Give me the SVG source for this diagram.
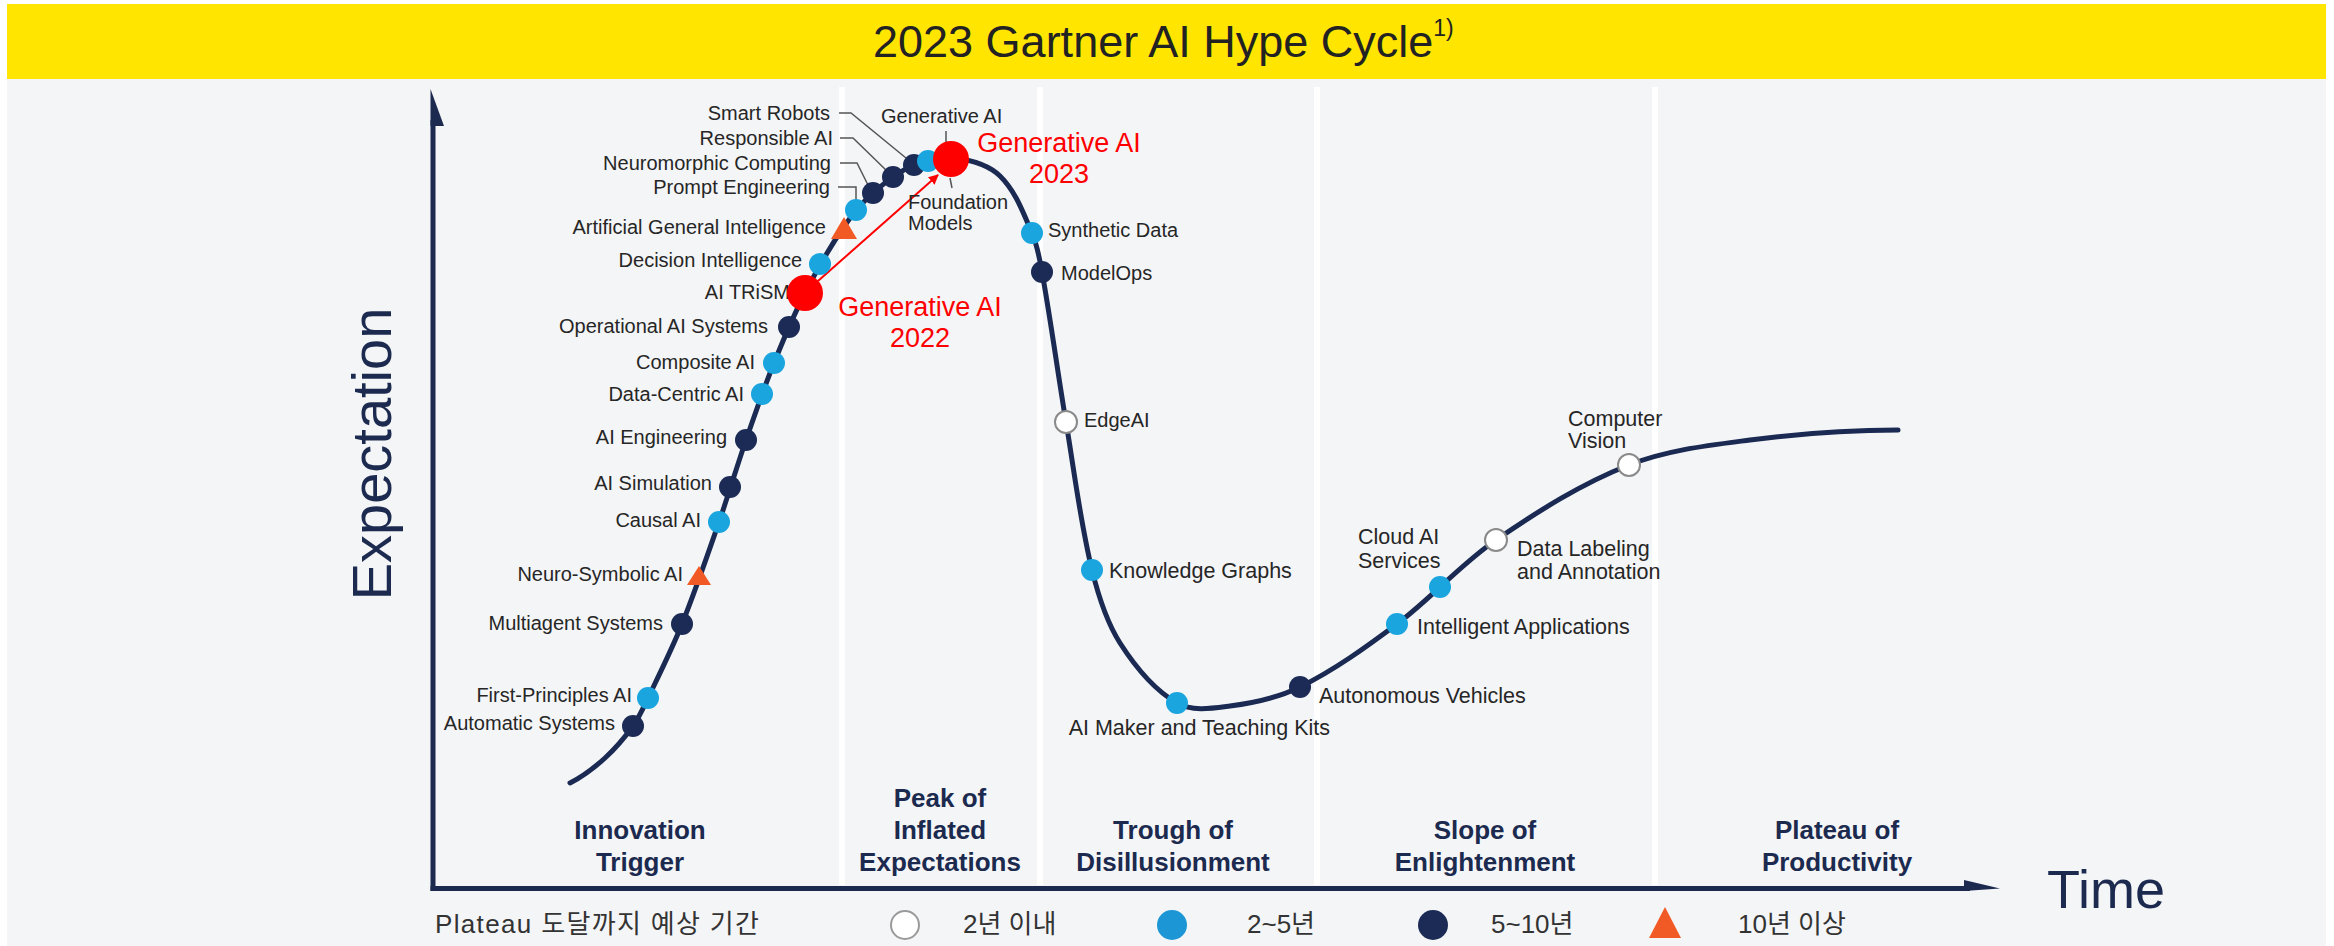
<svg xmlns="http://www.w3.org/2000/svg" width="2334" height="946" viewBox="0 0 2334 946">
<defs>
<style>
.lbl{font-family:"Liberation Sans",Arial,sans-serif;font-size:20px;fill:#262626}
.big{font-size:21.5px}
.end{text-anchor:end}
.ph{font-family:"Liberation Sans",Arial,sans-serif;font-size:26px;font-weight:bold;fill:#1B2A4E;text-anchor:middle}
.red{font-family:"Liberation Sans",Arial,sans-serif;font-size:27px;fill:#FF0000;text-anchor:middle}
.leg{font-family:"Liberation Sans","Noto Sans CJK KR",sans-serif;font-size:26px;fill:#333333}
.blue{fill:#1AA5DF}
.navy{fill:#1B2B55}
.open{fill:#FFFFFF;stroke:#8A8A8A;stroke-width:2}
.tri{fill:#F15A24}
.lead{fill:none;stroke:#555555;stroke-width:1.5}
.div{stroke:#FFFFFF;stroke-width:6}
</style>
<marker id="redhead" markerWidth="10" markerHeight="10" refX="9" refY="5" orient="auto" markerUnits="userSpaceOnUse" viewBox="0 0 10 10">
<path d="M0,0 L10,5 L0,10 z" fill="#FF0000"/>
</marker>
</defs>
<rect x="0" y="0" width="2334" height="946" fill="#FFFFFF"/>
<rect x="7" y="79" width="2319" height="867" fill="#F4F5F7"/>
<rect id="title-bar" x="7" y="4" width="2319" height="75" fill="#FFE500"/>
<text id="title" x="873" y="57" font-family="Liberation Sans, Arial, sans-serif" font-size="45" fill="#222222">2023 Gartner AI Hype Cycle<tspan font-size="23" dy="-21">1)</tspan></text>

<g id="dividers">
<line class="div" x1="842" y1="87" x2="842" y2="885"/>
<line class="div" x1="1040" y1="87" x2="1040" y2="885"/>
<line class="div" x1="1317" y1="87" x2="1317" y2="885"/>
<line class="div" x1="1655" y1="87" x2="1655" y2="885"/>
</g>

<g id="axes">
<line x1="433" y1="120" x2="433" y2="891" stroke="#1B2A4E" stroke-width="5"/>
<polygon points="430.5,89 444,126 430.5,126" fill="#1B2A4E"/>
<line x1="430.5" y1="888.5" x2="1970" y2="888.5" stroke="#1B2A4E" stroke-width="5"/>
<polygon points="1964,880 2000,888.5 1964,891" fill="#1B2A4E"/>
<text id="y-label" transform="translate(391,454) rotate(-90)" text-anchor="middle" font-family="Liberation Sans, Arial, sans-serif" font-size="56" fill="#1B2A4E">Expectation</text>
<text id="x-label" x="2047" y="908" font-family="Liberation Sans, Arial, sans-serif" font-size="54" fill="#1B2A4E">Time</text>
</g>

<g id="phases">
<text class="ph" x="640" y="839">Innovation</text>
<text class="ph" x="640" y="871">Trigger</text>
<text class="ph" x="940" y="807">Peak of</text>
<text class="ph" x="940" y="839">Inflated</text>
<text class="ph" x="940" y="871">Expectations</text>
<text class="ph" x="1173" y="839">Trough of</text>
<text class="ph" x="1173" y="871">Disillusionment</text>
<text class="ph" x="1485" y="839">Slope of</text>
<text class="ph" x="1485" y="871">Enlightenment</text>
<text class="ph" x="1837" y="839">Plateau of</text>
<text class="ph" x="1837" y="871">Productivity</text>
</g>

<path id="hype-curve" fill="none" stroke="#1B2A52" stroke-width="5" stroke-linecap="round" stroke-linejoin="round" d="M570,783 C582.8,776.6 594.4,767.6 605,758 C615.5,748.5 624.7,737.5 633,726 C639.2,717.4 643.4,707.6 648,698 C659.7,673.6 671.9,649.2 682,624 C695.5,590.5 707.1,556.2 719,522 C728.5,494.8 736.6,467.2 746,440 C754.9,414.2 763.8,388.3 774,363 C783.5,339.3 793.4,315.7 805,293 C816.4,270.7 828.9,248.8 843,228 C851.6,215.3 861.5,203.2 873,193 C885.4,182 898.8,171.5 914,165 C926.8,159.6 941.2,156.2 955,158 C971,160.1 988.4,164.7 1000,176 C1015.6,191.2 1023.3,213 1032,233 C1037.4,245.3 1039.6,258.8 1042,272 C1051,321.8 1057.6,372.1 1066,422 C1074.3,471.4 1080.1,521.3 1092,570 C1098.2,595.3 1106,621 1120,643 C1134.9,666.3 1153.1,689.3 1177,703 C1192.4,711.8 1212.4,708.3 1230,706 C1254,702.9 1278.3,697.7 1300,687 C1334.6,670 1366.1,647.1 1397,624 C1431.6,598 1460.3,564.5 1496,540 C1538,511.2 1581.6,483.6 1629,465 C1667.3,449.9 1709.2,445.3 1750,440 C1799,433.6 1848.6,430 1898,430"/>

<g id="connectors">
<polyline class="lead" points="839,113 851,113 906,158"/>
<polyline class="lead" points="840,138 853,138 887,171"/>
<polyline class="lead" points="840,163 857,163 868,185"/>
<polyline class="lead" points="838,187 856,187 856,200"/>
<line class="lead" x1="946" y1="131" x2="946" y2="142"/>
<line class="lead" x1="950" y1="178" x2="952" y2="188"/>
<line x1="818" y1="281" x2="938" y2="175" stroke="#FF0000" stroke-width="2" marker-end="url(#redhead)"/>
</g>

<g id="n-automatic-systems"><circle class="navy" cx="633" cy="726" r="11"/><text class="lbl end" x="615" y="730">Automatic Systems</text></g>
<g id="n-first-principles-ai"><circle class="blue" cx="648" cy="698" r="11"/><text class="lbl end" x="632" y="702">First-Principles AI</text></g>
<g id="n-multiagent-systems"><circle class="navy" cx="682" cy="624" r="11"/><text class="lbl end" x="663" y="630">Multiagent Systems</text></g>
<g id="n-neuro-symbolic-ai"><polygon class="tri" points="699,566 711,585 687,585"/><text class="lbl end" x="683" y="581">Neuro-Symbolic AI</text></g>
<g id="n-causal-ai"><circle class="blue" cx="719" cy="522" r="11"/><text class="lbl end" x="701" y="527">Causal AI</text></g>
<g id="n-ai-simulation"><circle class="navy" cx="730" cy="487" r="11"/><text class="lbl end" x="712" y="490">AI Simulation</text></g>
<g id="n-ai-engineering"><circle class="navy" cx="746" cy="440" r="11"/><text class="lbl end" x="727" y="444">AI Engineering</text></g>
<g id="n-data-centric-ai"><circle class="blue" cx="762" cy="394" r="11"/><text class="lbl end" x="744" y="401">Data-Centric AI</text></g>
<g id="n-composite-ai"><circle class="blue" cx="774" cy="363" r="11"/><text class="lbl end" x="755" y="369">Composite AI</text></g>
<g id="n-operational-ai-systems"><circle class="navy" cx="789" cy="327" r="11"/><text class="lbl end" x="768" y="333">Operational AI Systems</text></g>
<g id="n-ai-trism"><text class="lbl end" x="790" y="299">AI TRiSM</text><circle fill="#FF0000" cx="805" cy="293" r="18"/></g>
<g id="n-decision-intelligence"><circle class="blue" cx="820" cy="264" r="11"/><text class="lbl end" x="802" y="267">Decision Intelligence</text></g>
<g id="n-agi"><polygon class="tri" points="844,217 857,239 831,239"/><text class="lbl end" x="826" y="234">Artificial General Intelligence</text></g>
<g id="n-prompt-engineering"><circle class="blue" cx="856" cy="210" r="11"/><text class="lbl end" x="830" y="194">Prompt Engineering</text></g>
<g id="n-neuromorphic-computing"><circle class="navy" cx="873" cy="193" r="11"/><text class="lbl end" x="831" y="170">Neuromorphic Computing</text></g>
<g id="n-responsible-ai"><circle class="navy" cx="893" cy="177" r="11"/><text class="lbl end" x="833" y="145">Responsible AI</text></g>
<g id="n-smart-robots"><circle class="navy" cx="914" cy="165" r="11"/><text class="lbl end" x="830" y="120">Smart Robots</text></g>
<g id="n-generative-ai"><circle class="blue" cx="928" cy="161" r="11"/><text class="lbl" x="881" y="123">Generative AI</text></g>
<g id="n-foundation-models"><circle fill="#FF0000" cx="951" cy="159" r="18"/><text class="lbl" x="908" y="209">Foundation</text><text class="lbl" x="908" y="230">Models</text></g>
<g id="n-synthetic-data"><circle class="blue" cx="1032" cy="233" r="11"/><text class="lbl" x="1048" y="237">Synthetic Data</text></g>
<g id="n-modelops"><circle class="navy" cx="1042" cy="272" r="11"/><text class="lbl" x="1061" y="280">ModelOps</text></g>
<g id="n-edgeai"><circle class="open" cx="1066" cy="422" r="11"/><text class="lbl" x="1084" y="427">EdgeAI</text></g>
<g id="n-knowledge-graphs"><circle class="blue" cx="1092" cy="570" r="11"/><text class="lbl big" x="1109" y="578">Knowledge Graphs</text></g>
<g id="n-ai-maker"><circle class="blue" cx="1177" cy="703" r="11"/><text class="lbl big end" x="1330" y="735">AI Maker and Teaching Kits</text></g>
<g id="n-autonomous-vehicles"><circle class="navy" cx="1300" cy="687" r="11"/><text class="lbl big" x="1319" y="703">Autonomous Vehicles</text></g>
<g id="n-intelligent-applications"><circle class="blue" cx="1397" cy="624" r="11"/><text class="lbl big" x="1417" y="634">Intelligent Applications</text></g>
<g id="n-cloud-ai-services"><circle class="blue" cx="1440" cy="587" r="11"/><text class="lbl big" x="1358" y="544">Cloud AI</text><text class="lbl big" x="1358" y="568">Services</text></g>
<g id="n-data-labeling"><circle class="open" cx="1496" cy="540" r="11"/><text class="lbl big" x="1517" y="556">Data Labeling</text><text class="lbl big" x="1517" y="579">and Annotation</text></g>
<g id="n-computer-vision"><circle class="open" cx="1629" cy="465" r="11"/><text class="lbl big" x="1568" y="426">Computer</text><text class="lbl big" x="1568" y="448">Vision</text></g>

<g id="gen-ai-annotations">
<text class="red" x="920" y="316">Generative AI</text>
<text class="red" x="920" y="347">2022</text>
<text class="red" x="1059" y="152">Generative AI</text>
<text class="red" x="1059" y="183">2023</text>
</g>

<g id="legend">
<text class="leg" x="435" y="933" textLength="324" lengthAdjust="spacing">Plateau 도달까지 예상 기간</text>
<circle cx="905" cy="925" r="14" fill="#FFFFFF" stroke="#9A9A9A" stroke-width="2"/>
<text class="leg" x="963" y="933">2년 이내</text>
<circle cx="1172" cy="925" r="15" fill="#1C96D4"/>
<text class="leg" x="1247" y="933">2~5년</text>
<circle cx="1433" cy="925" r="15" fill="#1B2B55"/>
<text class="leg" x="1491" y="933">5~10년</text>
<polygon points="1665,907 1681,938 1649,938" fill="#F15A24"/>
<text class="leg" x="1738" y="933">10년 이상</text>
</g>
</svg>
